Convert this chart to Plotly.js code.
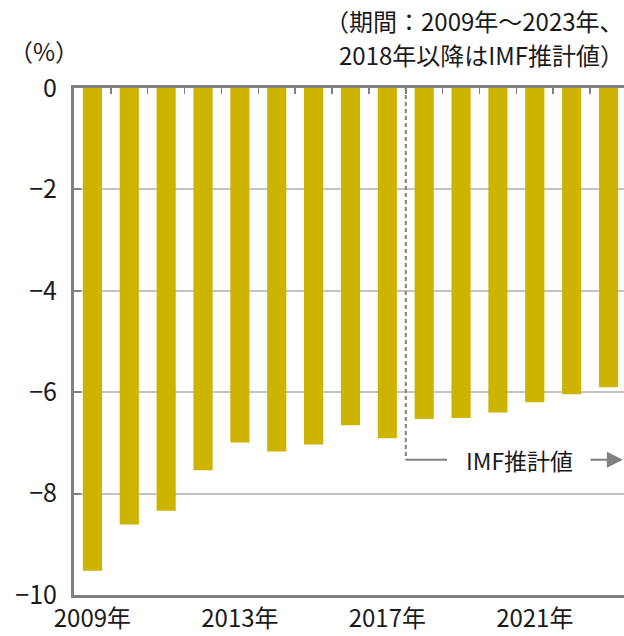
<!DOCTYPE html>
<html>
<head>
<meta charset="utf-8">
<script src="https://cdn.plot.ly/plotly-3.0.1.min.js"></script>
<style>html,body{margin:0;padding:0;background:#fff;}#chart{width:624px;height:636px;}</style>
</head>
<body>
<div id="chart"></div>
<script>
const years = ["2009年","2010年","2011年","2012年","2013年","2014年","2015年","2016年","2017年","2018年","2019年","2020年","2021年","2022年","2023年"];
const balance = [-9.52,-8.61,-8.34,-7.54,-6.99,-7.17,-7.03,-6.65,-6.91,-6.53,-6.51,-6.40,-6.20,-6.04,-5.90];
const tickLabels = ["2009年","2013年","2017年","2021年"];
const yTicks = [0,-2,-4,-6,-8,-10];
const noteLine1 = "（期間：2009年～2023年、";
const noteLine2 = "2018年以降はIMF推計値）";
const unitText = "（%）";
const estText = "IMF推計値";
const estStartIndex = 8.5;

const FONT = "Noto Sans CJK JP, Noto Sans, sans-serif";
const GRAY = "#808080";
const xr = [-0.5, 14.42];
const boundaries = years.slice(1).map((_, i) => i + 0.5);

const traces = [
  {type:"bar", x: years, y: balance, marker:{color:"#CDB400"}, width:0.52, hoverinfo:"x+y"},
  {type:"scatter", x: boundaries, y: boundaries.map(()=>null), xaxis:"x2", yaxis:"y", hoverinfo:"skip", showlegend:false}
];

const layout = {
  width:624, height:636,
  margin:{l:74, r:0, t:88, b:41},
  paper_bgcolor:"#fff", plot_bgcolor:"#fff",
  showlegend:false,
  font:{family:FONT, size:25, color:"#1a1a1a"},
  xaxis:{type:"category", range:xr, tickvals:tickLabels, ticktext:tickLabels,
    showline:true, linecolor:GRAY, linewidth:3, ticks:"", showgrid:false,
    tickfont:{size:24}, ticklabelstandoff:0},
  xaxis2:{type:"linear", overlaying:"x", side:"top", anchor:"y", range:xr,
    tickvals:boundaries, showticklabels:false, ticks:"inside", ticklen:6, tickwidth:1.5, tickcolor:GRAY,
    showline:true, linecolor:GRAY, linewidth:3, showgrid:false, zeroline:false},
  yaxis:{range:[-10,0], tickvals:yTicks, ticks:"inside", ticklen:7, tickwidth:2, tickcolor:GRAY,
    showline:true, linecolor:GRAY, linewidth:3, showgrid:true, gridcolor:"#C4C4C4", gridwidth:2,
    zeroline:false, tickfont:{size:25}, ticklabelstandoff:9},
  shapes:[
    {type:"line", xref:"x", yref:"y", x0:estStartIndex, x1:estStartIndex, y0:0, y1:-7.33,
      line:{color:GRAY, width:2, dash:"4px,3px"}},
    {type:"line", xref:"x", yref:"y", x0:estStartIndex, x1:9.62, y0:-7.33, y1:-7.33,
      line:{color:GRAY, width:2}}
  ],
  annotations:[
    {text:noteLine1, xref:"paper", yref:"paper", x:1.004, y:1.134, xanchor:"right", yanchor:"middle",
      showarrow:false, font:{size:24, color:"#1a1a1a"}},
    {text:noteLine2, xref:"paper", yref:"paper", x:1.004, y:1.067, xanchor:"right", yanchor:"middle",
      showarrow:false, font:{size:24, color:"#1a1a1a"}},
    {text:unitText, xref:"paper", yref:"paper", x:-0.0545, y:1.074, xanchor:"center", yanchor:"middle",
      showarrow:false, font:{size:24, color:"#1a1a1a"}},
    {text:estText, xref:"x", yref:"y", x:11.58, y:-7.33, xanchor:"center", yanchor:"middle",
      showarrow:false, font:{size:23, color:"#1a1a1a"}},
    {text:"", xref:"x", yref:"y", x:14.39, y:-7.33, axref:"x", ayref:"y", ax:13.47, ay:-7.33,
      showarrow:true, arrowhead:2, arrowsize:1.6, arrowwidth:2, arrowcolor:GRAY}
  ]
};

Plotly.newPlot("chart", traces, layout, {displayModeBar:false, staticPlot:true});
</script>
</body>
</html>
